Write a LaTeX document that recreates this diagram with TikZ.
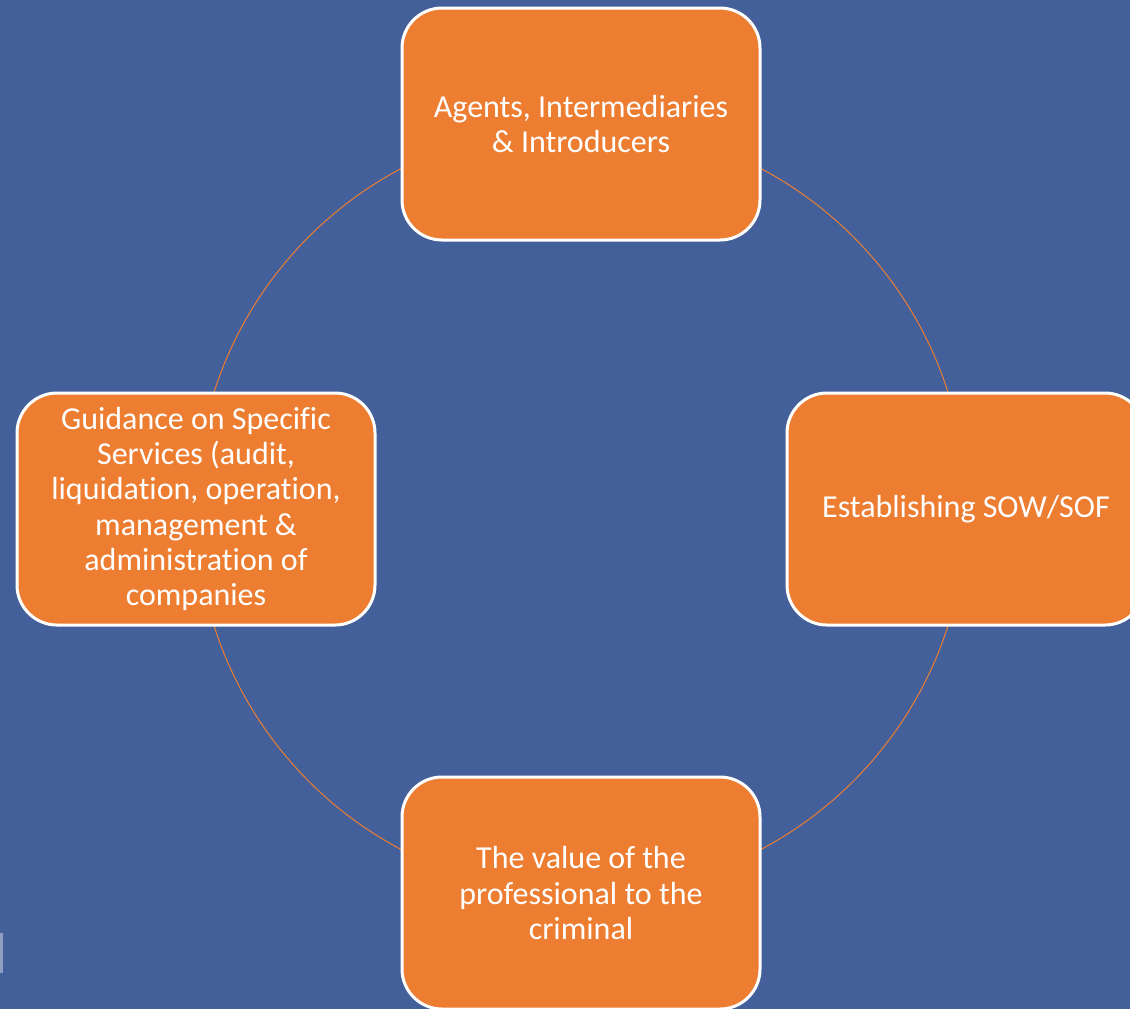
\documentclass[tikz,border=0pt]{standalone}
\usepackage{fontspec}
\setmainfont{Carlito}[Ligatures=NoCommon]
\usepackage{xcolor}
\definecolor{bgblue}{HTML}{43609A}
\definecolor{boxorange}{HTML}{ED7D31}
\tikzset{>=stealth,
  stepbox/.style={draw=white,line width=1.5pt,fill=boxorange,rounded corners=20pt,
    minimum width=179pt,minimum height=116pt,text=white,align=center,
    font=\fontsize{16}{17.6}\selectfont,inner sep=0pt},
  ring/.style={draw=boxorange,line width=0.5pt}}

\begin{document}
\begin{tikzpicture}[x=0.5pt,y=-0.5pt]
    \fill[bgblue] (0,0) rectangle (1130,1009);
    \useasboundingbox (0,0) rectangle (1130,1009);
    \fill[bgblue!60!white] (0,933) rectangle (3,973);

    \coordinate (ctr) at (581,509);
    \draw[ring] (ctr) circle (385);

    \node[stepbox] (agents) at (581,124) {Agents, Intermediaries\\\& Introducers};
    \node[stepbox] (sow) at (966,509) {Establishing SOW/SOF};
    \node[stepbox] (value) at (581,893) {The value of the\\professional to the\\criminal};
    \node[stepbox] (guide) at (196,509) {Guidance on Specific\\Services (audit,\\liquidation, operation,\\management \&\\administration of\\companies};
\end{tikzpicture}
\end{document}
